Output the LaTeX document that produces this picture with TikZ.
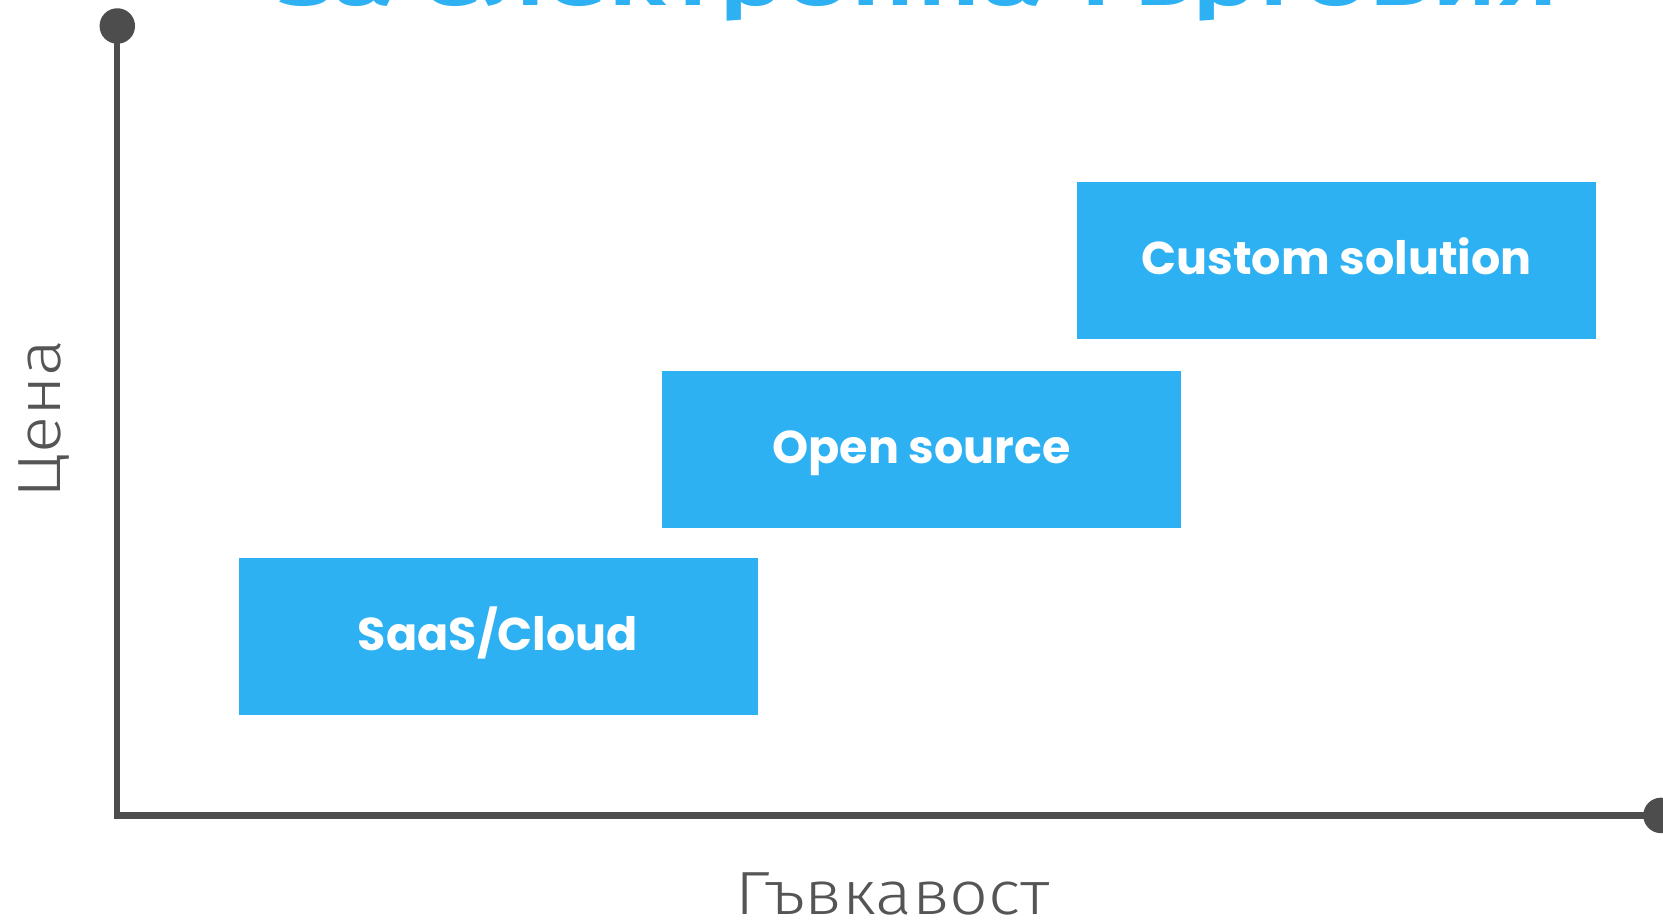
\documentclass[tikz,border=0pt]{standalone}
\usepackage{fontspec}
\IfFontExistsTF{Poppins Bold}{\newfontfamily\boxfont{Poppins Bold}}{\newfontfamily\boxfont{Poppins}}
\IfFontExistsTF{Fira Sans Light}{\newfontfamily\axisfont{Fira Sans Light}}{\newfontfamily\axisfont{Open Sans}}
\IfFontExistsTF{Fira Sans Medium}{\newfontfamily\titlefont{Fira Sans Medium}}{\newfontfamily\titlefont{Fira Sans}}
\definecolor{skyblue}{HTML}{2EB1F2}
\definecolor{axisgray}{HTML}{4D4D4D}
\definecolor{labelgray}{HTML}{555555}
\begin{document}
\begin{tikzpicture}[x=1pt,y=-1pt,
  solution/.style = {fill=skyblue, text=white, minimum width=519pt, minimum height=157pt,
    inner sep=0pt, text height=27pt, text depth=0pt, font=\boxfont\fontsize{46}{56}\selectfont},
  axisline/.style = {draw=axisgray, line width=6.3pt},
  axistip/.style = {circle, fill=axisgray, minimum size=35.5pt, inner sep=0pt},
  axislabel/.style = {text=labelgray, font=\axisfont\fontsize{61}{70}\selectfont}
] % price vs. flexibility
        \useasboundingbox (0,0) rectangle (1663,919);
        \clip (0,0) rectangle (1663,919);
        \node[anchor=base, text=skyblue, font=\titlefont\fontsize{72}{80}\selectfont] (title) at (919,5) {\scalebox{1.55}[1]{за електронна търговия}};
        % axes
        \coordinate (origin) at (117.3,815.4);
        \node[axistip] (ytip) at (117.3,26) {};
        \node[axistip] (xtip) at (1661,815.4) {};
        \draw[axisline] (ytip.center) -- (origin) -- (xtip.center);
        \node[axislabel, rotate=90, anchor=base] (ylabel) at (60,419) {\scalebox{1.13}[1]{Цена}};
        \node[axislabel, anchor=base] (xlabel) at (893,914) {\scalebox{1.12}[1]{Гъвкавост}};
        % the three options
        \node[solution] (saas) at (498,636.5) {SaaS/Cloud};
        \node[solution] (opensrc) at (921.5,449.5) {Open source};
        \node[solution] (custom) at (1336.5,260.5) {Custom solution};
\end{tikzpicture}
\end{document}
